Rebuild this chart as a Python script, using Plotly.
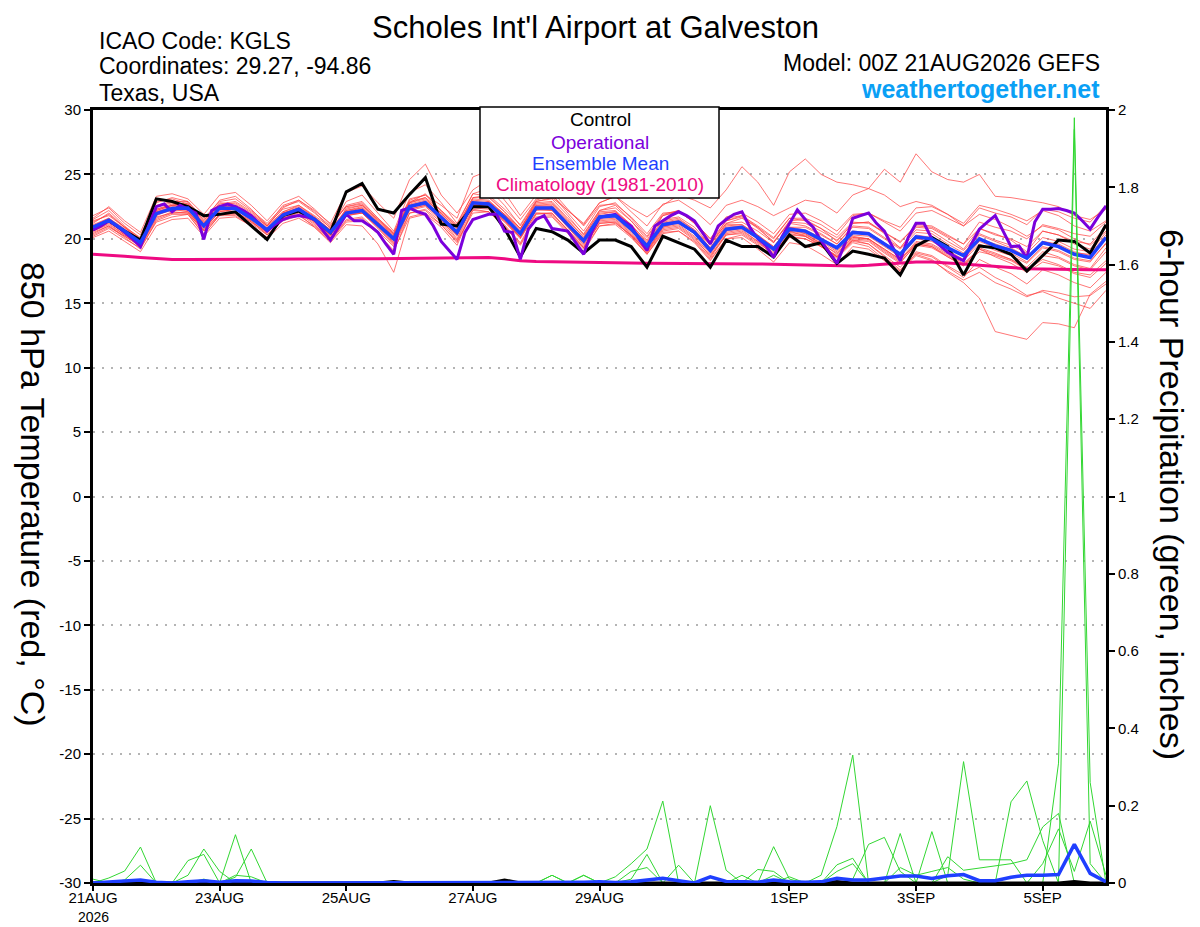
import pandas as pd
import plotly.graph_objects as go

# ------------------------------
# Data
# ------------------------------

times6 = pd.date_range("2026-08-21 00:00", "2026-09-06 00:00", freq="6h")
times3 = pd.date_range("2026-08-21 00:00", "2026-09-06 00:00", freq="3h")

tick_dates = ["2026-08-21", "2026-08-23", "2026-08-25", "2026-08-27",
              "2026-08-29", "2026-09-01", "2026-09-03", "2026-09-05"]
tick_labels = ["21AUG", "23AUG", "25AUG", "27AUG", "29AUG", "1SEP", "3SEP", "5SEP"]
start_year = "2026"

temp_ticks = [30, 25, 20, 15, 10, 5, 0, -5, -10, -15, -20, -25, -30]
temp_tick_labels = ["30", "25", "20", "15", "10", "5", "0", "-5", "-10", "-15", "-20", "-25", "-30"]

# 850 hPa temperature, control run (6-hourly)
control_t = [20.7, 21.4, 20.6, 19.9, 23.1, 22.9, 22.5, 21.8, 21.9, 22.1, 21.0, 19.95,
             21.8, 22.15, 21.5, 20.5, 23.65, 24.3, 22.3, 22.0, 23.45, 24.75, 21.15, 21.0,
             22.5, 22.5, 20.8, 18.6, 20.8, 20.55, 19.9, 18.9, 19.9, 19.9, 19.4, 17.8,
             20.2, 19.7, 19.2, 17.8, 19.9, 19.4, 19.4, 18.6, 20.3, 19.4, 19.7, 18.1,
             19.05, 18.8, 18.5, 17.2, 19.45, 20.1, 19.4, 17.2, 19.45, 19.3, 18.8, 17.5,
             18.7, 19.9, 19.8, 18.9, 21.1]

# operational run (3-hourly)
oper_t = [20.7, 21.0, 21.4, 21.0, 20.5, 20.0, 19.4, 21.0,
          22.5, 22.7, 22.1, 22.6, 22.3, 22.0, 19.95, 22.2,
          22.5, 22.7, 22.5, 22.2, 21.8, 21.2, 20.6, 21.1,
          21.5, 21.7, 21.8, 21.7, 21.5, 20.7, 19.9, 20.9,
          21.9, 21.4, 21.4, 21.0, 20.5, 19.6, 18.8, 22.2,
          22.4, 22.1, 21.9, 21.0, 19.8, 19.1, 18.4, 20.5,
          21.5, 21.7, 21.9, 21.9, 20.6, 20.5, 18.4, 20.75,
          21.5, 21.8, 20.8, 20.7, 20.6, 19.7, 18.8, 20.5,
          21.65, 21.8, 21.9, 21.4, 21.0, 20.0, 19.1, 21.0,
          21.4, 21.8, 22.1, 21.8, 21.4, 20.5, 19.6, 21.0,
          21.5, 21.9, 22.1, 20.9, 20.0, 19.5, 18.55, 20.1,
          21.2, 22.25, 21.5, 20.9, 19.85, 19.0, 18.1, 19.6,
          21.6, 21.8, 22.0, 21.2, 20.6, 19.4, 18.3, 20.1,
          21.2, 21.2, 20.0, 19.5, 18.95, 18.6, 18.3, 19.6,
          20.75, 21.3, 21.8, 20.6, 19.4, 19.45, 18.5, 21.3,
          22.3, 22.3, 22.35, 22.2, 22.0, 21.4, 20.75, 21.7,
          22.55]

# ensemble mean (6-hourly)
mean_t = [20.9, 21.45, 20.6, 19.7, 21.95, 22.35, 22.4, 21.0, 22.4, 22.35, 21.6, 20.7,
          21.85, 22.3, 21.5, 20.5, 22.0, 22.2, 21.1, 20.0, 22.5, 22.8, 21.65, 20.5,
          22.8, 22.7, 21.65, 20.4, 22.4, 22.4, 21.1, 19.85, 21.7, 21.8, 20.75, 19.45,
          21.1, 21.3, 20.5, 19.1, 20.75, 20.9, 20.1, 19.2, 20.75, 20.6, 19.95, 19.3,
          20.5, 20.4, 19.6, 18.8, 20.15, 20.0, 19.3, 18.7, 20.0, 19.45, 19.1, 18.5,
          19.7, 19.4, 18.8, 18.55, 20.1]

# climatology 1981-2010
clim_t = [18.8, 18.75, 18.65, 18.55, 18.45, 18.4, 18.4, 18.4, 18.4, 18.4, 18.4, 18.4,
          18.4, 18.42, 18.42, 18.44, 18.45, 18.45, 18.46, 18.47, 18.48, 18.5, 18.52, 18.54,
          18.55, 18.55, 18.45, 18.3, 18.25, 18.22, 18.2, 18.2, 18.18, 18.15, 18.12, 18.1,
          18.1, 18.1, 18.1, 18.1, 18.1, 18.08, 18.05, 18.02, 18.0, 17.98, 17.95, 17.9,
          17.9, 17.95, 18.05, 18.15, 18.2, 18.2, 18.15, 18.05, 17.95, 17.85, 17.75, 17.68,
          17.65, 17.62, 17.6, 17.6, 17.6]

# ensemble members (6-hourly)
member_t = [
    [21.8, 22.4, 21.2, 20.3, 22.8, 23.2, 22.9, 21.4, 23.0, 23.3, 22.3, 21.0, 22.6, 23.0, 22.1, 20.8,
     22.9, 23.4, 22.0, 20.6, 23.6, 24.2, 22.8, 21.2, 23.5, 23.9, 22.6, 21.0, 22.9, 23.1, 21.8, 20.3,
     22.2, 22.6, 21.4, 19.9, 21.8, 22.2, 21.2, 19.6, 21.4, 21.8, 20.9, 19.7, 21.4, 21.5, 20.8, 19.8,
     21.2, 21.3, 20.4, 19.3, 20.9, 20.8, 20.1, 19.2, 20.8, 20.4, 19.9, 19.0, 20.6, 20.3, 19.6, 19.2, 20.9],
    [20.2, 20.8, 20.0, 19.3, 21.3, 21.7, 21.9, 20.4, 21.8, 21.8, 21.0, 20.0, 21.2, 21.6, 20.9, 19.8,
     21.3, 21.4, 20.4, 19.1, 21.7, 22.0, 21.1, 19.8, 22.0, 22.1, 21.0, 19.6, 21.7, 21.8, 20.5, 19.2,
     21.0, 21.1, 20.1, 18.8, 20.4, 20.6, 19.8, 18.4, 20.0, 20.3, 19.5, 18.6, 20.1, 20.0, 19.4, 18.7,
     19.9, 19.8, 18.9, 18.1, 19.6, 19.4, 18.6, 17.9, 19.3, 18.9, 18.4, 17.8, 19.0, 18.6, 18.0, 17.7, 19.3],
    [21.2, 22.0, 20.9, 19.9, 22.3, 22.6, 22.8, 21.3, 22.7, 22.9, 22.1, 21.1, 22.3, 22.6, 21.8, 20.9,
     22.6, 22.9, 21.6, 20.4, 22.8, 23.5, 22.1, 21.0, 23.2, 23.4, 22.3, 21.1, 23.0, 23.4, 22.2, 21.2,
     22.8, 23.3, 22.1, 21.0, 22.7, 23.0, 22.2, 21.1, 22.6, 23.0, 22.5, 21.8, 22.4, 23.0, 22.8, 22.0,
     23.4, 23.9, 25.4, 24.4, 26.6, 25.2, 24.6, 24.4, 25.0, 23.3, 23.2, 23.0, 22.8, 22.5, 21.8, 21.5, 22.3],
    [20.6, 21.2, 20.3, 19.5, 21.8, 22.3, 22.2, 20.7, 22.1, 22.3, 21.4, 20.3, 21.6, 22.1, 21.2, 20.1,
     21.8, 22.1, 20.9, 19.6, 22.3, 22.6, 21.6, 20.3, 22.6, 22.9, 21.9, 20.8, 22.9, 23.2, 22.2, 21.1,
     22.8, 23.3, 22.4, 21.7, 22.6, 23.4, 23.0, 22.4, 23.8, 25.6, 24.4, 22.6, 25.2, 26.2, 25.0, 24.4,
     24.2, 23.9, 23.4, 22.5, 22.9, 22.6, 21.9, 21.0, 21.9, 21.5, 20.9, 20.2, 21.0, 20.7, 20.0, 19.5, 20.6],
    [20.5, 21.0, 20.2, 19.4, 21.5, 22.0, 22.0, 20.6, 21.9, 21.9, 21.2, 20.3, 21.4, 21.8, 21.0, 19.9,
     21.5, 21.7, 20.6, 19.4, 22.0, 22.3, 21.3, 19.9, 22.4, 22.3, 21.3, 20.0, 22.0, 21.9, 20.7, 19.4,
     21.2, 21.3, 20.2, 18.9, 20.6, 20.8, 19.9, 18.5, 20.3, 20.4, 19.6, 18.6, 20.2, 20.0, 19.4, 18.6,
     19.8, 19.6, 18.6, 17.6, 18.8, 18.4, 17.4, 16.6, 15.4, 12.8, 12.5, 12.2, 13.5, 13.4, 13.1, 15.7, 16.7],
    [21.0, 21.6, 20.7, 19.8, 22.2, 22.6, 22.5, 21.1, 22.5, 22.6, 21.7, 20.8, 22.0, 22.4, 21.6, 20.6,
     22.1, 22.3, 21.2, 20.1, 22.6, 22.9, 21.8, 20.6, 22.9, 22.8, 21.8, 20.5, 22.5, 22.5, 21.2, 20.0,
     21.8, 21.9, 20.9, 19.6, 21.2, 21.4, 20.6, 19.2, 20.9, 21.0, 20.2, 19.3, 20.8, 20.4, 19.6, 18.6,
     19.9, 19.6, 18.7, 17.8, 19.0, 18.7, 17.9, 17.2, 17.8, 17.0, 16.4, 15.6, 15.9, 15.4, 15.0, 14.6, 16.0],
    [21.5, 22.2, 21.0, 20.0, 22.9, 23.1, 22.7, 21.5, 22.6, 22.8, 22.0, 21.0, 22.4, 23.0, 22.2, 21.2,
     23.6, 24.1, 22.8, 21.6, 24.6, 25.8, 23.4, 22.0, 23.8, 24.6, 23.0, 21.5, 23.1, 23.4, 22.0, 20.6,
     22.5, 22.8, 21.6, 20.2, 21.9, 22.2, 21.2, 19.8, 21.4, 21.7, 20.8, 19.8, 21.2, 21.0, 20.4, 19.6,
     21.0, 20.9, 20.1, 19.3, 20.7, 20.6, 19.8, 19.1, 20.4, 19.9, 19.5, 18.9, 20.1, 19.8, 19.2, 19.0, 20.5],
    [20.4, 21.0, 20.1, 19.2, 21.4, 21.9, 21.9, 20.3, 21.9, 22.0, 21.1, 20.1, 21.5, 21.9, 20.9, 19.7,
     21.1, 21.0, 19.6, 17.4, 21.6, 21.9, 20.9, 19.5, 22.3, 22.1, 21.1, 19.7, 21.9, 22.0, 20.6, 19.3,
     21.3, 21.4, 20.3, 19.0, 20.7, 20.9, 20.0, 18.7, 20.3, 20.5, 19.7, 18.8, 20.4, 20.2, 19.6, 18.9,
     20.1, 20.0, 19.2, 18.4, 19.8, 19.6, 18.9, 18.3, 19.6, 19.1, 18.7, 18.1, 19.3, 19.0, 18.4, 18.2, 19.7],
    [21.3, 21.9, 20.9, 20.1, 22.5, 22.8, 22.6, 21.2, 22.8, 22.7, 21.9, 21.0, 22.1, 22.5, 21.7, 20.7,
     22.3, 22.6, 21.5, 20.4, 23.0, 23.4, 22.6, 21.6, 24.8, 25.3, 23.6, 21.8, 23.4, 23.7, 22.3, 21.0,
     22.6, 22.7, 21.7, 20.4, 22.0, 22.1, 21.3, 20.0, 21.6, 21.8, 21.0, 20.1, 21.6, 21.4, 20.8, 20.1,
     21.3, 21.2, 20.5, 19.8, 21.0, 20.9, 20.2, 19.6, 20.8, 20.3, 20.0, 19.4, 20.6, 20.3, 19.8, 19.6, 20.9],
    [20.7, 21.3, 20.5, 19.6, 22.2, 22.6, 22.7, 21.2, 22.6, 22.5, 21.8, 20.9, 22.1, 22.6, 21.7, 20.7,
     22.2, 22.5, 21.3, 20.2, 22.8, 23.1, 22.0, 20.8, 23.0, 22.9, 21.9, 20.6, 22.6, 22.7, 21.4, 20.2,
     22.0, 22.1, 21.1, 19.8, 21.5, 21.7, 20.9, 19.5, 21.2, 21.3, 20.6, 19.7, 21.3, 21.2, 20.6, 19.9,
     21.2, 21.3, 20.5, 19.7, 21.1, 21.0, 20.3, 19.6, 21.3, 20.9, 20.6, 20.0, 21.1, 20.8, 20.4, 20.2, 21.3],
    [21.0, 21.4, 20.4, 19.4, 21.7, 22.0, 22.1, 20.7, 22.2, 22.3, 21.5, 20.6, 21.7, 22.2, 21.4, 20.3,
     21.8, 22.0, 20.8, 19.5, 22.2, 22.5, 21.4, 20.2, 22.7, 22.5, 21.5, 20.1, 22.2, 22.3, 20.9, 19.5,
     21.5, 21.6, 20.5, 19.1, 20.9, 21.1, 20.2, 18.8, 20.5, 20.7, 19.8, 18.9, 20.5, 20.3, 19.7, 18.8,
     20.1, 20.0, 19.1, 18.3, 19.7, 19.5, 18.8, 18.1, 19.2, 18.8, 18.4, 17.6, 18.4, 18.0, 17.4, 17.2, 18.3],
    [20.3, 20.9, 20.2, 19.5, 21.9, 22.2, 22.3, 20.9, 22.3, 22.1, 21.3, 20.4, 22.0, 22.4, 21.6, 20.6,
     22.0, 22.0, 21.0, 19.8, 22.3, 22.6, 21.5, 20.3, 22.5, 22.4, 21.4, 20.2, 22.3, 22.2, 21.0, 19.7,
     21.6, 21.7, 20.6, 19.3, 21.0, 21.2, 20.4, 19.0, 20.7, 20.9, 20.2, 19.4, 20.9, 20.9, 20.3, 19.6,
     20.9, 20.8, 20.0, 19.2, 20.5, 20.4, 19.6, 18.9, 20.3, 19.8, 19.3, 18.6, 19.8, 19.6, 19.0, 18.7, 20.0],
    [21.1, 21.6, 20.8, 19.9, 22.3, 22.7, 22.6, 21.1, 22.5, 22.4, 21.6, 20.6, 21.8, 22.2, 21.3, 20.3,
     21.8, 22.0, 20.9, 19.7, 22.4, 22.7, 21.6, 20.3, 22.6, 22.5, 21.4, 20.1, 22.0, 22.0, 20.7, 19.3,
     21.2, 21.3, 20.2, 18.8, 20.5, 20.6, 19.7, 18.3, 20.0, 20.1, 19.2, 18.2, 19.7, 19.5, 18.8, 18.0,
     19.4, 19.2, 18.3, 17.4, 18.9, 18.6, 17.8, 17.0, 18.4, 17.8, 17.3, 16.5, 17.6, 17.2, 16.6, 16.2, 17.4],
    [20.8, 21.5, 20.7, 19.8, 22.1, 22.5, 22.5, 21.0, 22.4, 22.6, 21.8, 20.8, 22.0, 22.3, 21.5, 20.5,
     22.1, 22.4, 21.3, 20.2, 22.7, 23.0, 22.0, 20.8, 23.1, 23.0, 21.9, 20.7, 22.8, 22.9, 21.6, 20.4,
     22.2, 22.4, 21.4, 20.1, 21.8, 22.1, 21.3, 20.0, 21.7, 22.0, 21.3, 20.4, 21.9, 22.0, 21.4, 20.6,
     21.9, 22.0, 21.3, 20.6, 22.0, 22.2, 21.6, 21.0, 22.4, 22.0, 21.7, 21.1, 22.3, 22.1, 21.6, 21.3, 22.6],
    [20.6, 21.1, 20.3, 19.6, 21.6, 22.1, 22.0, 20.6, 21.9, 22.0, 21.3, 20.5, 21.9, 22.3, 21.4, 20.3,
     21.9, 22.1, 21.1, 19.9, 22.5, 22.7, 21.5, 20.0, 22.7, 22.8, 21.8, 20.4, 22.4, 22.4, 21.1, 19.8,
     21.8, 21.9, 20.8, 19.4, 21.1, 21.3, 20.4, 18.9, 20.6, 20.8, 20.0, 19.0, 20.6, 20.4, 19.8, 19.0,
     20.3, 20.2, 19.4, 18.6, 20.0, 19.8, 19.1, 18.4, 19.8, 19.3, 18.9, 18.2, 19.4, 19.1, 18.5, 18.3, 19.6],
    [21.4, 21.8, 20.9, 19.9, 22.6, 22.9, 22.9, 21.6, 22.9, 23.1, 22.2, 21.2, 22.5, 22.9, 22.0, 21.0,
     22.5, 22.8, 21.6, 20.5, 23.1, 23.4, 22.2, 20.9, 23.2, 23.2, 22.1, 20.8, 22.7, 22.8, 21.5, 20.1,
     22.1, 22.2, 21.1, 19.7, 21.4, 21.6, 20.7, 19.3, 21.1, 21.1, 20.3, 19.3, 20.9, 20.7, 20.1, 19.3,
     20.6, 20.5, 19.7, 18.9, 20.3, 20.1, 19.4, 18.7, 20.0, 19.6, 19.2, 18.6, 19.8, 19.5, 18.9, 18.8, 20.3],
    [20.9, 21.3, 20.4, 19.6, 22.0, 22.3, 22.1, 20.8, 22.1, 22.1, 21.4, 20.5, 21.6, 22.0, 21.1, 19.9,
     21.4, 21.6, 20.4, 19.0, 22.0, 22.2, 21.1, 19.7, 22.2, 22.1, 21.0, 19.5, 21.6, 21.7, 20.4, 19.0,
     21.0, 21.2, 20.3, 19.1, 20.9, 21.3, 20.6, 19.6, 21.2, 21.6, 20.9, 20.0, 21.6, 21.6, 21.1, 20.3,
     21.8, 22.0, 21.4, 20.9, 22.4, 22.5, 21.9, 21.2, 22.6, 22.3, 21.9, 21.4, 22.2, 21.8, 21.0, 20.6, 21.4],
    [21.6, 22.5, 21.4, 20.5, 23.3, 23.5, 23.1, 21.9, 23.4, 23.6, 22.6, 21.4, 22.8, 23.3, 22.3, 21.1,
     22.5, 22.7, 21.5, 20.3, 22.9, 23.2, 21.9, 20.6, 22.6, 22.6, 21.4, 20.1, 22.3, 22.2, 20.9, 19.6,
     21.4, 21.5, 20.4, 19.0, 20.8, 21.0, 20.1, 18.6, 20.4, 20.6, 19.8, 18.7, 20.3, 20.2, 19.5, 18.6,
     20.0, 19.9, 19.0, 18.2, 19.5, 19.3, 18.6, 17.9, 19.0, 18.7, 18.3, 17.6, 18.7, 18.5, 17.9, 17.6, 19.0],
    [20.1, 20.6, 19.8, 19.0, 21.0, 21.5, 21.6, 20.2, 21.6, 21.7, 21.0, 20.1, 21.8, 22.2, 21.3, 20.2,
     22.4, 22.6, 21.4, 20.3, 22.8, 23.2, 22.2, 21.1, 23.5, 23.3, 22.1, 20.8, 22.6, 22.6, 21.3, 20.0,
     21.9, 22.1, 21.0, 19.6, 21.3, 21.5, 20.7, 19.3, 21.0, 21.1, 20.3, 19.4, 20.7, 20.5, 19.9, 19.1,
     20.2, 20.0, 19.2, 18.4, 19.6, 19.4, 18.7, 18.0, 19.2, 18.6, 18.1, 17.4, 18.2, 17.9, 17.3, 17.0, 18.1],
    [21.0, 21.5, 20.6, 19.7, 22.1, 22.4, 22.3, 20.9, 22.3, 22.5, 21.7, 20.7, 21.9, 22.4, 21.6, 20.6,
     22.2, 22.4, 21.2, 20.0, 22.6, 22.9, 21.7, 20.4, 22.8, 22.8, 21.7, 20.4, 22.4, 22.5, 21.2, 19.9,
     21.7, 21.9, 20.8, 19.5, 21.2, 21.4, 20.5, 19.2, 20.8, 20.9, 20.1, 19.1, 20.6, 20.2, 19.4, 18.5,
     19.7, 19.4, 18.4, 17.5, 18.7, 18.3, 17.5, 16.8, 17.4, 16.6, 16.1, 15.5, 16.0, 15.8, 15.5, 15.6, 16.5],
]

# 6-hour precipitation (inches)
member_p = [
    [0, 0.013, 0.031, 0.093, 0, 0, 0, 0, 0, 0, 0, 0, 0, 0, 0, 0,
     0, 0, 0, 0, 0, 0, 0, 0, 0, 0, 0, 0, 0, 0, 0, 0,
     0, 0, 0, 0, 0, 0, 0, 0, 0, 0, 0, 0, 0, 0, 0, 0,
     0, 0, 0, 0, 0, 0, 0, 0, 0, 0, 0, 0, 0, 0.31, 1.98, 0.26, 0],
    [0, 0, 0.008, 0.046, 0, 0, 0.02, 0.088, 0.03, 0, 0, 0, 0, 0, 0, 0,
     0, 0, 0, 0, 0, 0, 0, 0, 0, 0, 0, 0, 0, 0, 0, 0,
     0, 0, 0, 0, 0, 0, 0, 0, 0, 0, 0, 0, 0, 0, 0, 0,
     0, 0, 0, 0, 0, 0, 0, 0, 0, 0, 0, 0, 0, 0, 1.95, 0.05, 0],
    [0, 0, 0, 0, 0, 0, 0.058, 0.074, 0, 0, 0, 0, 0, 0, 0, 0,
     0, 0, 0, 0, 0, 0, 0, 0, 0, 0, 0, 0, 0, 0, 0, 0,
     0, 0.016, 0.05, 0.088, 0.212, 0, 0, 0, 0, 0, 0, 0, 0, 0, 0, 0,
     0, 0, 0, 0, 0, 0, 0, 0, 0, 0, 0, 0, 0, 0, 0, 0, 0],
    [0, 0, 0, 0, 0, 0, 0, 0, 0, 0.125, 0, 0, 0, 0, 0, 0,
     0, 0, 0, 0, 0, 0, 0, 0, 0, 0, 0, 0, 0, 0, 0, 0,
     0, 0, 0, 0, 0, 0.046, 0, 0.2, 0.033, 0, 0.035, 0.03, 0, 0, 0, 0,
     0, 0, 0, 0, 0, 0, 0, 0, 0, 0, 0, 0, 0, 0, 0, 0, 0],
    [0, 0, 0, 0, 0, 0, 0, 0, 0, 0.015, 0.088, 0, 0, 0, 0, 0,
     0, 0, 0, 0, 0, 0, 0, 0, 0, 0, 0, 0, 0, 0, 0, 0,
     0, 0, 0.01, 0.074, 0, 0, 0, 0, 0, 0, 0, 0.094, 0.01, 0, 0.02, 0.146,
     0.331, 0, 0, 0, 0, 0, 0, 0, 0, 0, 0, 0, 0, 0, 0, 0, 0],
    [0, 0, 0, 0, 0, 0, 0, 0, 0, 0, 0, 0, 0, 0, 0, 0,
     0, 0, 0, 0, 0, 0, 0, 0, 0, 0, 0, 0, 0, 0.02, 0, 0,
     0, 0, 0, 0, 0, 0, 0, 0, 0, 0, 0, 0, 0, 0, 0, 0.047,
     0.064, 0, 0, 0, 0, 0, 0.02, 0.314, 0.06, 0.06, 0.06, 0, 0, 0, 0, 0, 0],
    [0, 0, 0, 0, 0, 0, 0, 0, 0, 0, 0, 0, 0, 0, 0, 0,
     0, 0, 0, 0, 0, 0, 0, 0, 0, 0, 0, 0, 0, 0, 0, 0.02,
     0, 0, 0, 0, 0, 0, 0, 0, 0, 0, 0, 0, 0, 0, 0, 0,
     0.01, 0.1, 0.118, 0.03, 0, 0.133, 0, 0, 0, 0, 0.21, 0.264, 0.11, 0, 0, 0, 0],
    [0, 0, 0, 0, 0, 0, 0, 0, 0, 0, 0, 0, 0, 0, 0, 0,
     0, 0, 0, 0, 0, 0, 0, 0, 0, 0, 0, 0, 0, 0, 0, 0,
     0, 0, 0, 0, 0, 0, 0, 0, 0, 0, 0, 0, 0, 0, 0, 0,
     0, 0, 0, 0.128, 0, 0, 0.068, 0.033, 0.038, 0.044, 0.05, 0.06, 0.145, 0.18, 0, 0, 0],
    [0, 0, 0, 0, 0, 0, 0, 0, 0, 0, 0, 0, 0, 0, 0, 0,
     0, 0, 0, 0, 0, 0, 0, 0, 0, 0, 0, 0, 0, 0.02, 0, 0.02,
     0, 0, 0, 0, 0, 0, 0, 0, 0, 0.02, 0, 0, 0.016, 0, 0, 0.03,
     0.05, 0, 0, 0, 0, 0, 0, 0, 0, 0, 0, 0, 0.05, 0.14, 0.03, 0.16, 0.02],
    [0.01, 0, 0, 0, 0, 0, 0, 0.01, 0, 0.02, 0.016, 0, 0, 0, 0, 0,
     0, 0, 0, 0, 0, 0, 0, 0, 0, 0, 0, 0, 0, 0, 0, 0,
     0, 0, 0.03, 0.04, 0, 0, 0, 0, 0, 0, 0, 0.02, 0, 0, 0, 0,
     0, 0, 0, 0.04, 0.02, 0.03, 0.04, 0.01, 0, 0, 0, 0, 0, 0, 0, 0, 0],
]

mean_p = [0, 0.003, 0.005, 0.008, 0.002, 0, 0.003, 0.006, 0.002, 0.006, 0.005, 0.001,
          0, 0, 0, 0, 0, 0, 0, 0, 0, 0, 0, 0,
          0, 0, 0.002, 0, 0.001, 0.002, 0, 0.002, 0.003, 0.001, 0.003, 0.008,
          0.012, 0.006, 0, 0.016, 0.004, 0.003, 0.002, 0.008, 0.003, 0.002, 0.003, 0.012,
          0.008, 0.008, 0.012, 0.018, 0.018, 0.012, 0.019, 0.022, 0.006, 0.006, 0.015, 0.02,
          0.02, 0.022, 0.1, 0.025, 0.003]

control_p = [0, 0, 0, 0, 0, 0, 0, 0, 0, 0, 0, 0,
             0, 0, 0, 0, 0, 0, 0, 0.004, 0, 0, 0, 0,
             0, 0, 0.008, 0, 0, 0, 0, 0, 0, 0, 0, 0,
             0, 0, 0, 0, 0, 0.003, 0, 0, 0, 0, 0, 0.004,
             0, 0, 0, 0, 0, 0, 0, 0, 0, 0, 0, 0,
             0, 0, 0.004, 0, 0]

# colours
red_color = "rgba(255,60,60,0.7)"
green_color = "rgb(50,215,50)"
ctrl_color = "black"
oper_color = "#7b00dc"
mean_color = "#1f3fff"
clim_color = "#ee0a82"
site_color = "#0aa0f5"

FONT = "Liberation Sans, Arial, Helvetica, sans-serif"

# the page body adds an 8px margin, so the figure is drawn 8px smaller
OFF = 8
FIG_W, FIG_H = 1200 - OFF, 927 - OFF
# plot area in page pixels: x 93..1106, y 110..883
L, R, T, B = 93 - OFF, 1106 - OFF, 110 - OFF, 883 - OFF


def px(x):
    # page pixel -> paper fraction
    return (x - OFF - L) / (R - L)


def py(y):
    return (B - (y - OFF)) / (B - T)


# ------------------------------
# Plot
# ------------------------------

fig = go.Figure()

for m in member_t:
    fig.add_trace(go.Scatter(x=times6, y=m, mode="lines",
                             line=dict(color=red_color, width=1), hoverinfo="skip"))

fig.add_trace(go.Scatter(x=times6, y=clim_t, mode="lines", line=dict(color=clim_color, width=3)))
fig.add_trace(go.Scatter(x=times6, y=control_t, mode="lines", line=dict(color=ctrl_color, width=3)))
fig.add_trace(go.Scatter(x=times3, y=oper_t, mode="lines", line=dict(color=oper_color, width=3)))
fig.add_trace(go.Scatter(x=times6, y=mean_t, mode="lines", line=dict(color=mean_color, width=3.5)))

for m in member_p:
    fig.add_trace(go.Scatter(x=times6, y=m, mode="lines", yaxis="y2",
                             line=dict(color=green_color, width=1), hoverinfo="skip"))

fig.add_trace(go.Scatter(x=times6, y=control_p, mode="lines", yaxis="y2",
                         line=dict(color=ctrl_color, width=3)))
fig.add_trace(go.Scatter(x=times6, y=mean_p, mode="lines", yaxis="y2",
                         line=dict(color=mean_color, width=3.5)))

annotations = [
    dict(text="Scholes Int'l Airport at Galveston", x=px(595), y=py(28), font_size=31),
    dict(text="ICAO Code: KGLS", x=px(97), y=py(41), xanchor="left", font_size=23),
    dict(text="Coordinates: 29.27, -94.86", x=px(97), y=py(66), xanchor="left", font_size=23),
    dict(text="Texas, USA", x=px(97), y=py(93), xanchor="left", font_size=23),
    dict(text="Model: 00Z 21AUG2026 GEFS", x=px(1102), y=py(63), xanchor="right", font_size=23),
    dict(text="<b>weathertogether.net</b>", x=px(1102), y=py(89), xanchor="right",
         font=dict(size=25, color=site_color, family=FONT)),
    dict(text="Control", x=px(600), y=py(120), font_size=19),
    dict(text="Operational", x=px(600), y=py(142), font=dict(size=19, color=oper_color, family=FONT)),
    dict(text="Ensemble Mean", x=px(600), y=py(163), font=dict(size=19, color=mean_color, family=FONT)),
    dict(text="Climatology (1981-2010)", x=px(600), y=py(185),
         font=dict(size=19, color=clim_color, family=FONT)),
    dict(text="850 hPa Temperature (red, °C)", x=px(33), y=py(494), textangle=90, font_size=34),
    dict(text="6-hour Precipitation (green, inches)", x=px(1172), y=py(494), textangle=90, font_size=34),
    dict(text=start_year, x=px(93), y=py(917), font_size=14),
]
for a in annotations:
    a.update(xref="paper", yref="paper", showarrow=False)
    a.setdefault("xanchor", "center")
    a["yanchor"] = "middle"
    if "font" not in a:
        a["font"] = dict(size=a.pop("font_size"), color="black", family=FONT)

fig.update_layout(
    width=FIG_W,
    height=FIG_H,
    margin=dict(l=L, r=FIG_W - R, t=T, b=FIG_H - B),
    paper_bgcolor="white",
    plot_bgcolor="white",
    showlegend=False,
    font=dict(family=FONT, size=15, color="black"),
    annotations=annotations,
    shapes=[dict(type="rect", xref="paper", yref="paper", layer="above",
                 x0=px(480), x1=px(719), y0=py(198), y1=py(107),
                 fillcolor="white", line=dict(color="black", width=1.5))],
    xaxis=dict(
        type="date",
        range=["2026-08-21 00:00", "2026-09-06 00:00"],
        tickvals=tick_dates,
        ticktext=tick_labels,
        ticks="outside", ticklen=5, tickwidth=2, tickcolor="black",
        ticklabelstandoff=-6,
        showline=True, linewidth=3, linecolor="black", mirror=True,
        showgrid=False, zeroline=False, automargin=False,
        tickfont=dict(size=15, color="black"),
    ),
    yaxis=dict(
        range=[-30, 30],
        tickvals=temp_ticks,
        ticktext=temp_tick_labels,
        ticks="outside", ticklen=6, tickwidth=2, tickcolor="black",
        showline=True, linewidth=3, linecolor="black", mirror=True,
        showgrid=True, gridcolor="#b4b4b4", griddash="2px,7px", gridwidth=1.5,
        zeroline=False, automargin=False,
        tickfont=dict(size=15, color="black"),
    ),
    yaxis2=dict(
        overlaying="y", side="right",
        range=[0, 2], dtick=0.2, tick0=0,
        ticks="outside", ticklen=6, tickwidth=2, tickcolor="black",
        showline=True, linewidth=3, linecolor="black",
        showgrid=False, zeroline=False, automargin=False,
        tickfont=dict(size=15, color="black"),
    ),
)

fig.write_html("out.html")
